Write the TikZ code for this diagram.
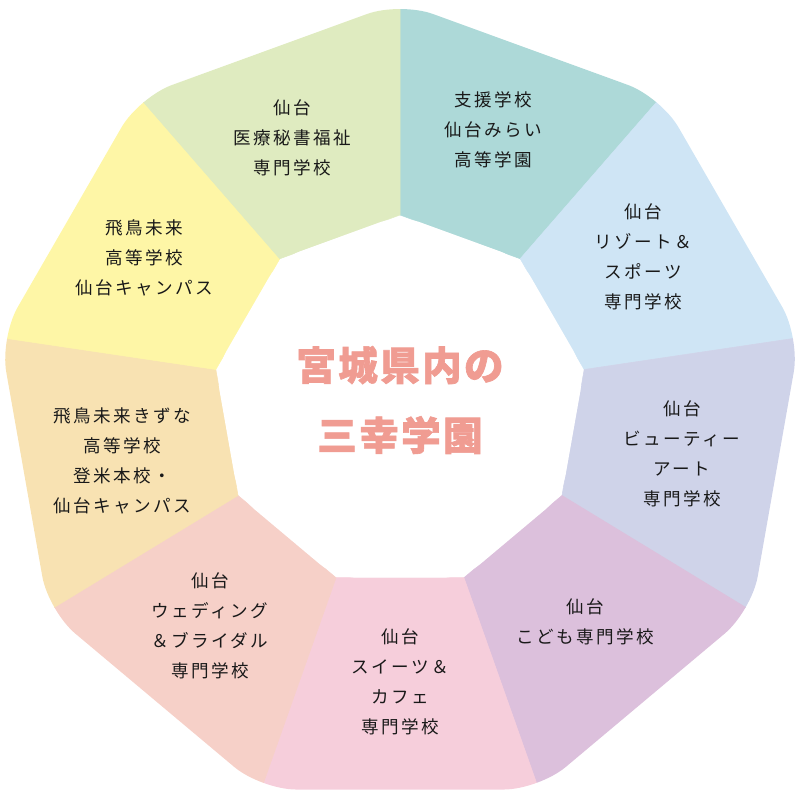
\documentclass[tikz,border=0pt]{standalone}
\usepackage{fontspec}
\newfontfamily\jp[LetterSpace=14]{Noto Sans CJK JP}
\newfontfamily\jpttl[LetterSpace=6,BoldFeatures={FakeBold=1.6}]{Noto Sans CJK JP}
\usetikzlibrary{calc}

\definecolor{shien}{HTML}{ADD9D8}
\definecolor{resort}{HTML}{CFE5F5}
\definecolor{beauty}{HTML}{CFD3E9}
\definecolor{kodomo}{HTML}{DCC0DC}
\definecolor{sweets}{HTML}{F6CEDB}
\definecolor{wedding}{HTML}{F6D0C8}
\definecolor{kizuna}{HTML}{F8E2B2}
\definecolor{asuka}{HTML}{FEF6A6}
\definecolor{iryo}{HTML}{DFEBC0}
\definecolor{ttlpink}{HTML}{F09C92}

\tikzset{
  school/.style={font=\jp\fontsize{10}{17}\selectfont,align=center,text=black!90},
  ttl/.style={font=\jpttl\bfseries\fontsize{22.5}{39.8}\selectfont,align=center,text=ttlpink}
}

\begin{document}
\begin{tikzpicture}[x=0.02cm,y=-0.02cm]
  \useasboundingbox (0,0) rectangle (800,800);
  % outer and inner nonagon corners, clockwise from the top
  \foreach \i in {0,...,8}{
    \coordinate (O\i) at ($(400,408)+({-90+40*\i}:406)$);
    \coordinate (I\i) at ($(400,402)+({-90+40*\i}:187)$);
  }
  \begin{scope}
    \clip[rounded corners=20] (O0) -- (O1) -- (O2) -- (O3) -- (O4)
      -- (O5) -- (O6) -- (O7) -- (O8) -- cycle;
    \foreach \i/\c in {0/shien,1/resort,2/beauty,3/kodomo,4/sweets,
                       5/wedding,6/kizuna,7/asuka,8/iryo}{
      \pgfmathtruncatemacro\j{mod(\i+1,9)}
      \filldraw[fill=\c,draw=\c,line width=0.3pt]
        (I\i) -- ($(I\i)!1.25!(O\i)$) -- ($(I\j)!1.25!(O\j)$) -- (I\j) -- cycle;
    }
  \end{scope}
  \fill[white,rounded corners=12] (I0) -- (I1) -- (I2) -- (I3) -- (I4)
    -- (I5) -- (I6) -- (I7) -- (I8) -- cycle;

  \node[ttl] (sanko) at (400,400) {宮城県内の\\三幸学園};

  \node[school] (shienS) at (493,130) {支援学校\\仙台みらい\\高等学園};
  \node[school] (resortS) at (643,257) {仙台\\リゾート＆\\スポーツ\\専門学校};
  \node[school] (beautyS) at (682,454) {仙台\\ビューティー\\アート\\専門学校};
  \node[school] (kodomoS) at (585,622) {仙台\\こども専門学校};
  \node[school] (sweetsS) at (400,682) {仙台\\スイーツ＆\\カフェ\\専門学校};
  \node[school] (weddingS) at (210,626) {仙台\\ウェディング\\＆ブライダル\\専門学校};
  \node[school] (kizunaS) at (122,461) {飛鳥未来きずな\\高等学校\\登米本校・\\仙台キャンパス};
  \node[school] (asukaS) at (144,258) {飛鳥未来\\高等学校\\仙台キャンパス};
  \node[school] (iryoS) at (292,138) {仙台\\医療秘書福祉\\専門学校};
\end{tikzpicture}
\end{document}
